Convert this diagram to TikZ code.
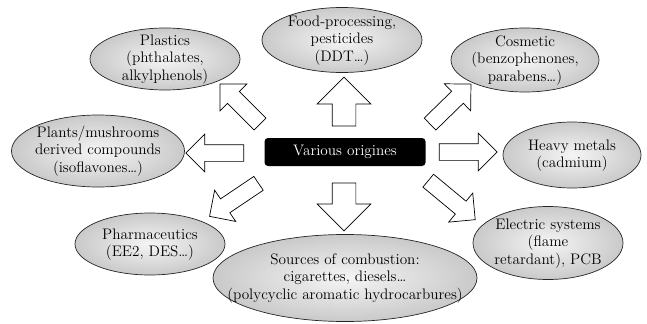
\documentclass[tikz,border=0pt]{standalone}
\usepackage{amsmath}
\usepackage{tikz}
\usetikzlibrary{shapes.geometric}
\usetikzlibrary{shapes.arrows}
\usetikzlibrary{calc}

% text lines set inside an ellipse of fixed size
\newcommand{\srctext}[1]{\makebox[0pt]{\smash{\raisebox{-0.25em}{%
    \begin{tabular}{@{}c@{}}#1\end{tabular}}}}}

% hollow block arrow from a tail point to a tip point
\newcommand{\blockarrow}[4][]{%
    \path let \p1 = (#3), \p2 = (#4),
        \n1 = {atan2(\y2 - \y1, \x2 - \x1)},
        \n2 = {veclen(\x2 - \x1, \y2 - \y1)} in
        node[#1, rotate=\n1, minimum height=\n2] (#2) at ($(\p1)!0.5!(\p2)$) {};
}

\tikzset{
    srcell/.style={ellipse, draw=black!85, line width=0.6pt,
        inner color=gray!8, outer color=gray!42, inner sep=0pt,
        font=\fontsize{13}{15}\selectfont},
    origbox/.style={rectangle, rounded corners=3pt, fill=black, text=white,
        minimum width=4.83cm, minimum height=0.84cm,
        font=\fontsize{13}{15}\selectfont},
    blockarrow/.style={single arrow, draw=black, fill=white, line width=0.6pt,
        inner xsep=0pt, single arrow head indent=0pt},
    bigarrow/.style={blockarrow, inner ysep=0.345cm, single arrow head extend=0.45cm},
    smallarrow/.style={blockarrow, inner ysep=0.24cm, single arrow head extend=0.315cm}
}

\begin{document}
\begin{tikzpicture}
        \useasboundingbox (0, 0) rectangle (19.41, 9.69);

        \node[origbox] (orig) at (10.35, 5.13) {Various origines};

        \node[srcell, minimum width=4.5cm, minimum height=1.86cm] (plastics) at (4.95, 7.92)
            {\srctext{Plastics\\(phthalates,\\alkylphenols)}};
        \node[srcell, minimum width=4.8cm, minimum height=1.95cm] (food) at (10.26, 8.49)
            {\srctext{Food-processing,\\pesticides\\(DDT\ldots)}};
        \node[srcell, minimum width=4.44cm, minimum height=1.92cm] (cosmetic) at (15.75, 7.89)
            {\srctext{Cosmetic\\(benzophenones,\\parabens\ldots)}};
        \node[srcell, minimum width=5.19cm, minimum height=2.16cm] (plants) at (2.94, 5.16)
            {\srctext{Plants/mushrooms\\derived compounds\\(isoflavones\ldots)}};
        \node[srcell, minimum width=4.14cm, minimum height=1.98cm] (metals) at (17.16, 5.04)
            {\srctext{Heavy metals\\(cadmium)}};
        \node[srcell, minimum width=4.5cm, minimum height=2.19cm] (electric) at (16.44, 2.4)
            {\srctext{Electric systems\\(flame\\retardant), PCB}};
        \node[srcell, minimum width=7.92cm, minimum height=2.61cm] (combustion) at (10.35, 1.35)
            {\srctext{Sources of combustion:\\cigarettes, diesels\ldots\\(polycyclic aromatic hydrocarbures)}};
        \node[srcell, minimum width=4.5cm, minimum height=1.86cm] (pharma) at (4.5, 2.37)
            {\srctext{Pharmaceutics\\(EE2, DES\ldots)}};

        % tails (t) and tips (h) of the arrows
        \coordinate (up-t) at (10.32, 5.73);
        \coordinate (up-h) at (10.32, 7.2);
        \coordinate (down-t) at (10.32, 4.38);
        \coordinate (down-h) at (10.32, 2.94);
        \coordinate (left-t) at (7.44, 5.1);
        \coordinate (left-h) at (5.7, 5.1);
        \coordinate (right-t) at (13.05, 5.13);
        \coordinate (right-h) at (14.79, 5.13);
        \coordinate (ul-t) at (7.89, 5.88);
        \coordinate (ul-h) at (6.69, 7.08);
        \coordinate (ur-t) at (12.81, 5.88);
        \coordinate (ur-h) at (14.04, 7.08);
        \coordinate (ll-t) at (7.86, 4.26);
        \coordinate (ll-h) at (6.39, 3.27);
        \coordinate (lr-t) at (12.75, 4.35);
        \coordinate (lr-h) at (14.16, 3.18);

        \blockarrow[bigarrow]{to-food}{up-t}{up-h}
        \blockarrow[bigarrow]{to-combustion}{down-t}{down-h}
        \blockarrow[smallarrow]{to-plants}{left-t}{left-h}
        \blockarrow[smallarrow]{to-metals}{right-t}{right-h}
        \blockarrow[smallarrow]{to-plastics}{ul-t}{ul-h}
        \blockarrow[smallarrow]{to-cosmetic}{ur-t}{ur-h}
        \blockarrow[smallarrow]{to-pharma}{ll-t}{ll-h}
        \blockarrow[smallarrow]{to-electric}{lr-t}{lr-h}
    \end{tikzpicture}
\end{document}
